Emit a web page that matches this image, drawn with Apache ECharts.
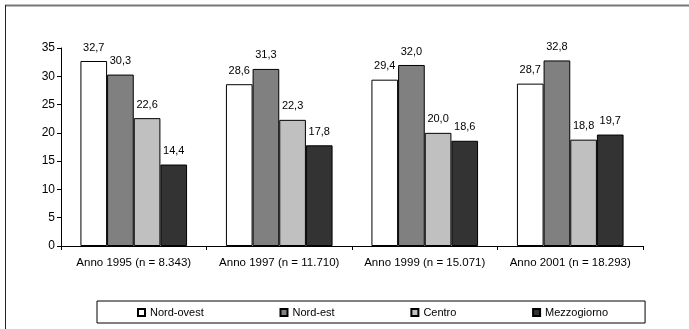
<!DOCTYPE html>
<html><head><meta charset="utf-8">
<script src="https://cdn.jsdelivr.net/npm/echarts@6/dist/echarts.min.js"></script>
<style>html,body{margin:0;padding:0;background:#fff}#c{width:689px;height:329px}</style>
</head><body><div id="c"></div>
<script>
const categories = ["Anno 1995 (n = 8.343)", "Anno 1997 (n = 11.710)", "Anno 1999 (n = 15.071)", "Anno 2001 (n = 18.293)"];
const seriesNames = ["Nord-ovest", "Nord-est", "Centro", "Mezzogiorno"];
const nordOvest = [32.7, 28.6, 29.4, 28.7];
const nordEst = [30.3, 31.3, 32.0, 32.8];
const centro = [22.6, 22.3, 20.0, 18.8];
const mezzogiorno = [14.4, 17.8, 18.6, 19.7];
const yTicks = [0, 5, 10, 15, 20, 25, 30, 35];
const colors = ["#ffffff", "#808080", "#c0c0c0", "#333333"];

const allData = [nordOvest, nordEst, centro, mezzogiorno];
const font = "Liberation Sans, Arial, sans-serif";
const chart = echarts.init(document.getElementById('c'), null, {renderer: 'canvas'});
chart.setOption({
  backgroundColor: '#fff',
  animation: false,
  grid: {left: 61, right: 46, top: 48, bottom: 83, containLabel: false},
  legend: {
    data: seriesNames,
    bottom: 6,
    left: 97,
    itemWidth: 7, itemHeight: 7, itemGap: 75.7,
    icon: 'rect',
    padding: [6, 37, 5, 40],
    borderColor: '#000', borderWidth: 1,
    textStyle: {fontFamily: font, fontSize: 11, color: '#000'}
  },
  xAxis: {
    type: 'category', data: categories,
    axisLine: {lineStyle: {color: '#000', width: 1}},
    axisTick: {show: true, length: 4, lineStyle: {color: '#000'}},
    axisLabel: {interval: 0, fontFamily: font, fontSize: 11.5, color: '#000', margin: 11}
  },
  yAxis: {
    type: 'value', min: yTicks[0], max: yTicks[yTicks.length - 1], interval: 5,
    axisLine: {show: true, lineStyle: {color: '#000', width: 1}},
    axisTick: {show: true, length: 4, lineStyle: {color: '#000'}},
    splitLine: {show: false},
    axisLabel: {fontFamily: font, fontSize: 12, color: '#000', margin: 6}
  },
  series: seriesNames.map((n, i) => ({
    name: n, type: 'bar', data: allData[i],
    barGap: '0%', barCategoryGap: '26.7%',
    itemStyle: {color: colors[i], borderColor: '#000', borderWidth: 1},
    label: {show: true, position: 'top', distance: 8, fontFamily: font, fontSize: 11, color: '#000',
      formatter: p => p.value.toFixed(1).replace('.', ',')}
  })),
  graphic: [
    {type: 'line', shape: {x1: 5, y1: 5.5, x2: 689, y2: 5.5}, style: {stroke: '#777', lineWidth: 2}},
    {type: 'line', shape: {x1: 5.5, y1: 5, x2: 5.5, y2: 329}, style: {stroke: '#222', lineWidth: 1}}
  ]
});
</script></body></html>
